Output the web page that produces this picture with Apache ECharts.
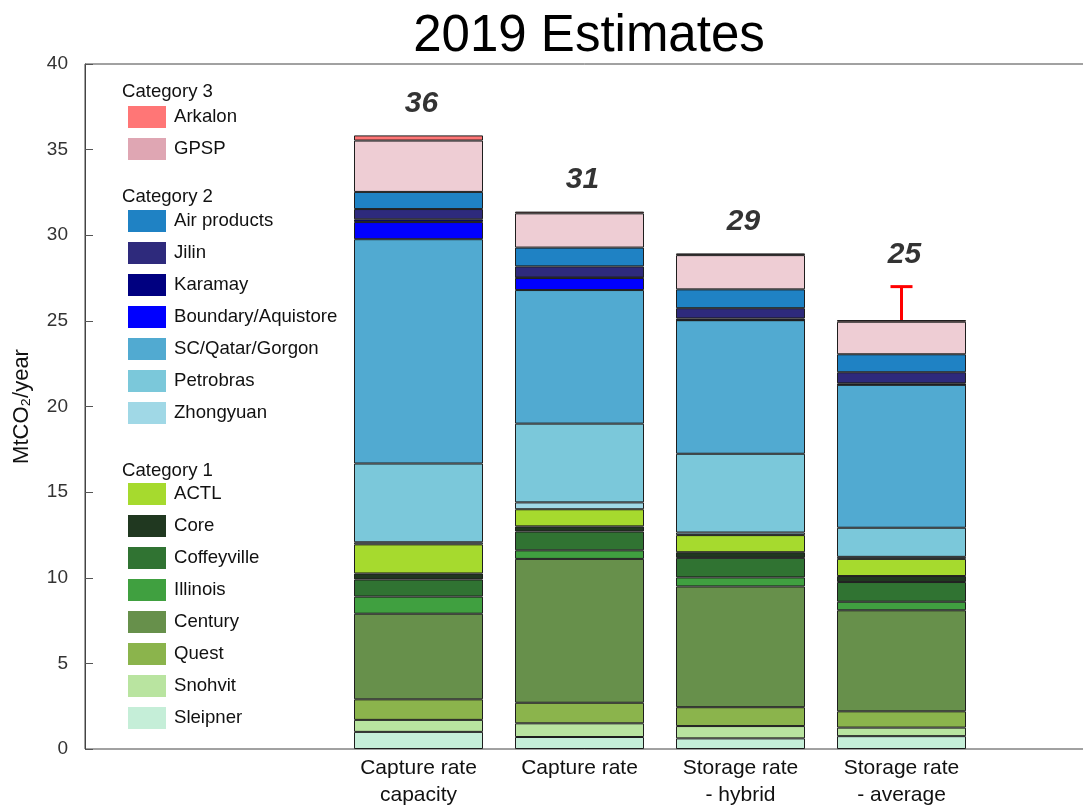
<!DOCTYPE html>
<html>
<head>
<meta charset="utf-8">
<script src="https://cdn.jsdelivr.net/npm/echarts@6/dist/echarts.min.js"></script>
<style>
  html, body { margin: 0; padding: 0; background: #fff; }
  #chart { width: 1083px; height: 805px; }
</style>
</head>
<body>
<div id="chart"></div>
<script>
var FONT = "'Liberation Sans', Arial, Helvetica, sans-serif";

var categories = ["Capture rate\ncapacity", "Capture rate", "Storage rate\n- hybrid", "Storage rate\n- average"];
var yTicks = { min: 0, max: 40, interval: 5 };

// stacked from the bottom up
var sleipner = [1.0, 0.7, 0.62, 0.75];
var snohvit = [0.7, 0.8, 0.72, 0.5];
var quest = [1.2, 1.2, 1.1, 0.95];
var century = [5.0, 8.4, 7.05, 5.9];
var illinois = [1.0, 0.5, 0.53, 0.5];
var coffeyville = [1.0, 1.1, 1.14, 1.15];
var core = [0.35, 0.3, 0.33, 0.35];
var actl = [1.7, 1.0, 1.0, 1.0];
var zhongyuan = [0.12, 0.4, 0.15, 0.12];
var petrobras = [4.6, 4.6, 4.6, 1.7];
var scQatarGorgon = [13.1, 7.8, 7.8, 8.35];
var boundary = [1.0, 0.7, 0, 0];
var karamay = [0.16, 0.03, 0.1, 0.08];
var jilin = [0.6, 0.65, 0.6, 0.65];
var airProducts = [1.0, 1.1, 1.1, 1.05];
var gpsp = [3.0, 2.0, 2.0, 1.9];
var arkalon = [0.3, 0.1, 0.1, 0.1];

var errorHigh = [null, null, null, 27.0];

var seriesDefs = [
  { name: "Sleipner", data: sleipner, color: "#c5eed8" },
  { name: "Snohvit", data: snohvit, color: "#b9e4a0" },
  { name: "Quest", data: quest, color: "#8bb44c" },
  { name: "Century", data: century, color: "#67904b" },
  { name: "Illinois", data: illinois, color: "#40a040" },
  { name: "Coffeyville", data: coffeyville, color: "#307332" },
  { name: "Core", data: core, color: "#203820" },
  { name: "ACTL", data: actl, color: "#a6da2e" },
  { name: "Zhongyuan", data: zhongyuan, color: "#a0d8e6" },
  { name: "Petrobras", data: petrobras, color: "#7bc8da" },
  { name: "SC/Qatar/Gorgon", data: scQatarGorgon, color: "#51aad1" },
  { name: "Boundary/Aquistore", data: boundary, color: "#0000ff" },
  { name: "Karamay", data: karamay, color: "#000080" },
  { name: "Jilin", data: jilin, color: "#2e2a7c" },
  { name: "Air products", data: airProducts, color: "#1f82c4" },
  { name: "GPSP", data: gpsp, color: "#eecdd4", legendColor: "#dfa6b3" },
  { name: "Arkalon", data: arkalon, color: "#ff7676" }
];

var totals = categories.map(function (c, i) {
  var s = 0;
  seriesDefs.forEach(function (d) { s += d.data[i]; });
  return s;
});

function legendItems(names) {
  return names.map(function (n) {
    var d = seriesDefs.filter(function (s) { return s.name === n; })[0];
    return { name: n, itemStyle: { color: d.legendColor || d.color, borderWidth: 0 } };
  });
}

function makeLegend(names, top) {
  return {
    data: legendItems(names),
    orient: "vertical",
    left: 128,
    top: top,
    padding: 0,
    itemWidth: 38,
    itemHeight: 22,
    itemGap: 10,
    icon: "rect",
    selectedMode: false,
    itemStyle: { borderWidth: 0 },
    textStyle: { fontSize: 18.6, color: "#111", fontFamily: FONT, padding: [3, 0, 0, 3] }
  };
}

var series = seriesDefs.map(function (d) {
  return {
    name: d.name,
    type: "bar",
    stack: "total",
    xAxisIndex: 1,
    yAxisIndex: 1,
    barWidth: 129,
    data: d.data,
    itemStyle: { color: d.color, borderColor: "#1e1e1e", borderWidth: 1 }
  };
});

series.push({
  name: "errorbar",
  type: "custom",
  xAxisIndex: 1,
  yAxisIndex: 1,
  data: categories.map(function (c, i) {
    return errorHigh[i] == null ? null : [i, totals[i], errorHigh[i]];
  }).filter(function (v) { return v; }),
  renderItem: function (params, api) {
    var lo = api.coord([api.value(0), api.value(1)]);
    var hi = api.coord([api.value(0), api.value(2)]);
    var half = 11;
    return {
      type: "group",
      children: [
        { type: "line", shape: { x1: lo[0], y1: lo[1], x2: hi[0], y2: hi[1] }, style: { stroke: "#ff0000", lineWidth: 3 } },
        { type: "line", shape: { x1: hi[0] - half, y1: hi[1], x2: hi[0] + half, y2: hi[1] }, style: { stroke: "#ff0000", lineWidth: 3 } }
      ]
    };
  },
  z: 5
});

series.push({
  name: "totals",
  type: "scatter",
  xAxisIndex: 1,
  yAxisIndex: 1,
  symbolSize: 0,
  data: categories.map(function (c, i) {
    return [i, Math.max(totals[i], errorHigh[i] || 0)];
  }),
  label: {
    show: true,
    position: "top",
    distance: 17,
    offset: [3, 0],
    formatter: function (p) { return String(Math.round(totals[p.dataIndex])); },
    fontSize: 30,
    fontWeight: "bold",
    fontStyle: "italic",
    color: "#000",
    fontFamily: FONT
  },
  z: 6
});

var chart = echarts.init(document.getElementById("chart"), null, { renderer: "canvas" });
chart.setOption({
  animation: false,
  backgroundColor: "#fff",
  grid: [
    { left: 85, top: 64, right: -20, bottom: 56, show: true, borderColor: "#444", borderWidth: 1, outerBoundsMode: "none" },
    { left: 338, width: 644, top: 64, bottom: 56, outerBoundsMode: "none" }
  ],
  xAxis: [
    { gridIndex: 0, type: "category", data: [""], show: false },
    {
      gridIndex: 1,
      type: "category",
      data: categories,
      axisLine: { show: false },
      axisTick: { show: true, inside: true, length: 8, alignWithLabel: true, lineStyle: { color: "#555" } },
      axisLabel: { fontSize: 21, lineHeight: 27, color: "#111", margin: 6, fontFamily: FONT }
    }
  ],
  yAxis: [
    {
      gridIndex: 0,
      type: "value",
      min: yTicks.min,
      max: yTicks.max,
      interval: yTicks.interval,
      name: "MtCO\u2082/year",
      nameLocation: "middle",
      nameGap: 52,
      nameRotate: 90,
      nameTextStyle: { fontSize: 22, color: "#111", fontFamily: FONT },
      axisLine: { show: true, lineStyle: { color: "#444" } },
      axisTick: { show: true, inside: true, length: 8, lineStyle: { color: "#555" } },
      axisLabel: { fontSize: 19, color: "#333", margin: 17, fontFamily: FONT },
      splitLine: { show: false }
    },
    { gridIndex: 1, type: "value", min: yTicks.min, max: yTicks.max, show: false }
  ],
  legend: [
    makeLegend(["Arkalon", "GPSP"], 106),
    makeLegend(["Air products", "Jilin", "Karamay", "Boundary/Aquistore", "SC/Qatar/Gorgon", "Petrobras", "Zhongyuan"], 210),
    makeLegend(["ACTL", "Core", "Coffeyville", "Illinois", "Century", "Quest", "Snohvit", "Sleipner"], 483)
  ],
  graphic: [
    { type: "text", x: 589, y: 37, style: { text: "2019 Estimates", fontSize: 51, fontFamily: FONT, fill: "#000", textAlign: "center", textVerticalAlign: "middle" } },
    { type: "text", x: 122, y: 92, style: { text: "Category 3", fontSize: 18.6, fontFamily: FONT, fill: "#111", textVerticalAlign: "middle" } },
    { type: "text", x: 122, y: 197, style: { text: "Category 2", fontSize: 18.6, fontFamily: FONT, fill: "#111", textVerticalAlign: "middle" } },
    { type: "text", x: 122, y: 471, style: { text: "Category 1", fontSize: 18.6, fontFamily: FONT, fill: "#111", textVerticalAlign: "middle" } }
  ],
  series: series
});
</script>
</body>
</html>
